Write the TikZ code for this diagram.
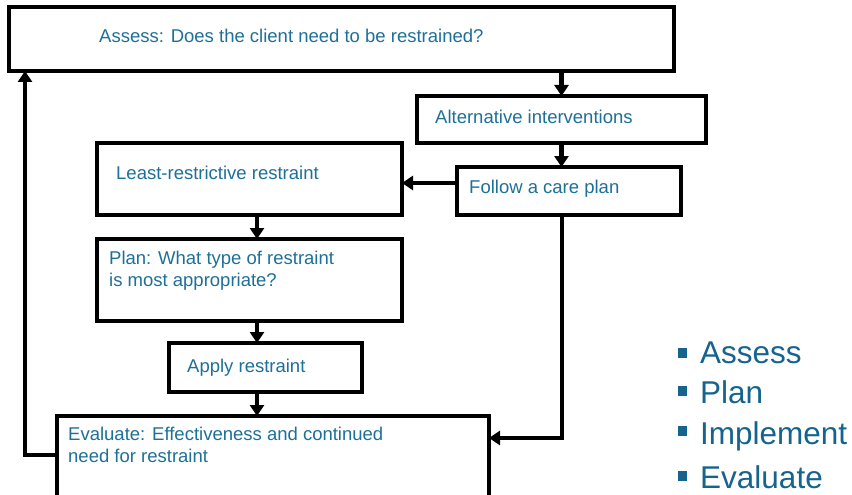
\documentclass[tikz,border=0pt]{standalone}
\usepackage{fontspec}
\setmainfont{Liberation Sans}
\usetikzlibrary{arrows.meta,calc}
\definecolor{txt}{RGB}{30,112,152}
\definecolor{bul}{RGB}{22,100,142}
\begin{document}
\begin{tikzpicture}[x=1pt,y=-1pt,
  box/.style={draw=black,line width=3.2pt,rectangle,anchor=north west,inner sep=0pt,outer sep=0pt},
  lbl/.style={anchor=base west,inner sep=0pt,text=txt,font=\fontsize{18.5}{22}\selectfont,align=left},
  blbl/.style={anchor=base west,inner sep=0pt,text=bul,font=\fontsize{31.5}{36}\selectfont},
  bsq/.style={fill=bul,draw=none,minimum size=9.5pt,inner sep=0pt},
  arr/.style={line width=4.2pt,-{Triangle[length=11pt,width=14pt]}},
]
\useasboundingbox (0,0) rectangle (852,495);
\clip (0,0) rectangle (852,495);
\fill[white] (0,0) rectangle (852,495);

% boxes
\node[box,minimum width=665pt,minimum height=64pt] (assess) at (9,7) {};
\node[box,minimum width=289pt,minimum height=47pt] (alt) at (417,96) {};
\node[box,minimum width=224pt,minimum height=48pt] (follow) at (457,167) {};
\node[box,minimum width=305pt,minimum height=72pt] (least) at (97,143) {};
\node[box,minimum width=305pt,minimum height=82pt] (plan) at (97,239) {};
\node[box,minimum width=193pt,minimum height=49pt] (apply) at (169,343) {};
\node[box,minimum width=432pt,minimum height=100pt] (eval) at (57,416) {};

% labels
\node[lbl] (tassess) at (99,43) {Assess: Does the client need to be restrained?};
\node[lbl] (talt) at (435,123) {Alternative interventions};
\node[lbl] (tfollow) at (469,193) {Follow a care plan};
\node[lbl] (tleast) at (116,179) {Least-restrictive restraint};
\node[lbl] (tplan) at (109,286) {Plan: What type of restraint\\is most appropriate?};
\node[lbl] (tapply) at (187,372) {Apply restraint};
\node[lbl] (teval) at (68,462) {Evaluate: Effectiveness and continued\\need for restraint};

% connectors
\coordinate (mx) at (257,0);
\coordinate (rc) at (562,438);
\coordinate (lc) at (25,455);
\coordinate (fw) at ([yshift=8pt]follow.west);
\draw[arr] (alt.north |- assess.south) -- (alt.north);
\draw[arr] (alt.south) -- (alt.south |- follow.north);
\draw[arr] (fw) -- (least.east |- fw);
\draw[arr] (mx |- least.south) -- (mx |- plan.north);
\draw[arr] (mx |- plan.south) -- (mx |- apply.north);
\draw[arr] (mx |- apply.south) -- (mx |- eval.north);
\draw[arr,line join=miter] (rc |- follow.south) -- (rc) -- (eval.east |- rc);
\draw[arr,line join=miter] (eval.west |- lc) -- (lc) -- (lc |- assess.south);

% bullet list
\node[bsq] (b1) at (682.5,353) {};
\node[bsq] (b2) at (682.5,391) {};
\node[bsq] (b3) at (682.5,431) {};
\node[bsq] (b4) at (682.5,476) {};
\node[blbl] (l1) at (700,363) {Assess};
\node[blbl] (l2) at (700,403) {Plan};
\node[blbl] (l3) at (700,444) {Implement};
\node[blbl] (l4) at (700,488) {Evaluate};
\end{tikzpicture}
\end{document}
